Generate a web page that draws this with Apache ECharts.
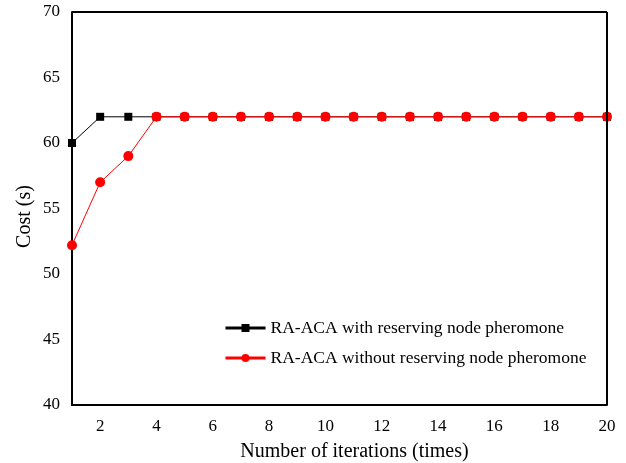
<!DOCTYPE html>
<html>
<head>
<meta charset="utf-8">
<script src="https://cdn.jsdelivr.net/npm/echarts@6/dist/echarts.min.js"></script>
<style>
  html, body { margin: 0; padding: 0; background: #fff; }
  #chart { width: 626px; height: 463px; }
</style>
</head>
<body>
<div id="chart"></div>
<script>
// iterations 1..20
const iterations = ['1', '2', '3', '4', '5', '6', '7', '8', '9', '10',
  '11', '12', '13', '14', '15', '16', '17', '18', '19', '20']
const withReserving = [60, 62, 62, 62, 62, 62, 62, 62, 62, 62,
  62, 62, 62, 62, 62, 62, 62, 62, 62, 62]
const withoutReserving = [52.2, 57, 59, 62, 62, 62, 62, 62, 62, 62,
  62, 62, 62, 62, 62, 62, 62, 62, 62, 62]

const font = 'Liberation Serif'

const chart = echarts.init(document.getElementById('chart'))
chart.setOption({
  animation: false,
  textStyle: { fontFamily: font, color: '#000' },
  grid: { left: 72, top: 12, right: 19, bottom: 58, outerBoundsMode: 'none' },
  legend: {
    orient: 'vertical',
    left: 219,
    top: 314,
    itemWidth: 40,
    itemHeight: 10,
    itemGap: 12,
    textStyle: { fontFamily: font, fontSize: 17.5, color: '#000' },
    data: [
      { name: 'RA-ACA with reserving node pheromone', itemStyle: { color: '#000' }, lineStyle: { width: 3, color: '#000' } },
      { name: 'RA-ACA without reserving node pheromone', itemStyle: { color: '#ff0000' }, lineStyle: { width: 3, color: '#ff0000' } }
    ]
  },
  xAxis: {
    type: 'category',
    data: iterations,
    boundaryGap: false,
    name: 'Number of iterations (times)',
    nameLocation: 'middle',
    nameGap: 37,
    nameTextStyle: { fontFamily: font, fontSize: 20, color: '#000', padding: [0, 0, 0, 30] },
    axisLine: { lineStyle: { color: '#000', width: 2 } },
    axisTick: { show: false },
    axisLabel: {
      fontFamily: font, fontSize: 17, color: '#000', margin: 13,
      interval: (i) => i % 2 === 1
    },
    splitLine: { show: false }
  },
  yAxis: {
    type: 'value',
    min: 40,
    max: 70,
    interval: 5,
    name: 'Cost (s)',
    nameLocation: 'middle',
    nameGap: 37,
    nameMoveOverlap: false,
    nameTextStyle: { fontFamily: font, fontSize: 20, color: '#000', padding: [0, 16, 0, 0] },
    axisLine: { show: true, lineStyle: { color: '#000', width: 2 } },
    axisTick: { show: false },
    axisLabel: { fontFamily: font, fontSize: 17, color: '#000', margin: 12 },
    splitLine: { show: false }
  },
  series: [
    {
      name: 'RA-ACA with reserving node pheromone',
      type: 'line',
      data: withReserving,
      symbol: 'rect',
      symbolSize: 8,
      itemStyle: { color: '#000' },
      lineStyle: { color: '#000', width: 1 }
    },
    {
      name: 'RA-ACA without reserving node pheromone',
      type: 'line',
      data: withoutReserving,
      symbol: 'circle',
      symbolSize: 10,
      itemStyle: { color: '#ff0000' },
      lineStyle: { color: '#ff0000', width: 1 }
    },
    // frame on top and right
    {
      type: 'line',
      data: [],
      markLine: {
        silent: true,
        symbol: 'none',
        label: { show: false },
        lineStyle: { color: '#000', width: 2, type: 'solid' },
        data: [
          [{ xAxis: '1', yAxis: 70 }, { xAxis: '20', yAxis: 70 }],
          [{ xAxis: '20', yAxis: 40 }, { xAxis: '20', yAxis: 70 }]
        ]
      }
    }
  ]
})
</script>
</body>
</html>
